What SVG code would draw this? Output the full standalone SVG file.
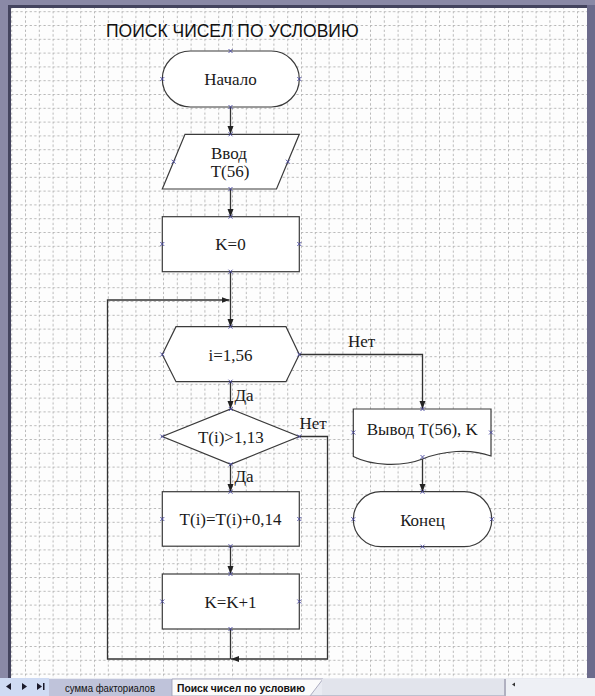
<svg xmlns="http://www.w3.org/2000/svg" xmlns:xlink="http://www.w3.org/1999/xlink" width="595" height="696" viewBox="0 0 595 696">
<style>
.shape{fill:#ffffff;stroke:#3a3a3a;stroke-width:1.2}
.lbl{font-family:"Liberation Serif","Times New Roman",serif;font-size:17px;fill:#1a1a1a;text-anchor:middle}
.lbl2{font-family:"Liberation Serif","Times New Roman",serif;font-size:17px;fill:#1a1a1a}
.conn{fill:none;stroke:#333333;stroke-width:1.3}
.arr{marker-end:url(#ah)}
.tab{font-family:"Liberation Sans",Arial,sans-serif;font-size:10.5px;fill:#111}
</style>
<defs>
<marker id="ah" markerUnits="userSpaceOnUse" markerWidth="9" markerHeight="7" refX="8" refY="3.5" orient="auto">
<path d="M0,0.5 L8,3.5 L0,6.5 z" fill="#222"/>
</marker>
<path id="cp" d="M-2,-2L2,2M-2,2L2,-2" stroke="#4848a0" stroke-width="0.9" fill="none"/>
<pattern id="grid" patternUnits="userSpaceOnUse" x="11.2" y="11.2" width="13.8" height="13.8">
<path d="M0.5,0V13.8M0,0.5H13.8" stroke="#b8b8b8" stroke-width="1" stroke-dasharray="2.3 2.3" fill="none"/>
</pattern>
</defs>

<!-- window frame -->
<rect x="0" y="0" width="595" height="696" fill="#8a89a6"/>
<rect x="8" y="5" width="581" height="675" fill="#44445e"/>
<rect x="11" y="8" width="576" height="670" fill="#fdfdfd"/>
<rect x="11" y="8" width="576" height="670" fill="url(#grid)"/>
<rect x="587" y="5" width="8" height="675" fill="#6c6b8c"/>

<!-- title -->
<text x="106" y="36.7" font-family="'Liberation Sans',Arial,sans-serif" font-size="17.5" fill="#111">ПОИСК ЧИСЕЛ ПО УСЛОВИЮ</text>

<!-- connectors -->
<g id="connectors">
<path class="conn arr" d="M230.5,107 V134"/>
<path class="conn arr" d="M230.5,189 V217"/>
<path class="conn arr" d="M230.5,272 V327"/>
<path class="conn arr" d="M230.5,382 V409"/>
<path class="conn arr" d="M230.5,464 V492"/>
<path class="conn arr" d="M230.5,546 V574"/>
<path class="conn" d="M230.5,629 V659"/>
<path class="conn arr" d="M299,354.5 H422.5 V409"/>
<path class="conn arr" d="M422.5,456.5 V492"/>
<path class="conn arr" d="M299,436.5 H327.5 V659 H231"/>
<path class="conn arr" d="M230.5,659 H107.5 V300 H229.5"/>
<text class="lbl2" x="348" y="347">Нет</text>
<text class="lbl2" x="299.5" y="429">Нет</text>
<text class="lbl2" x="234.5" y="400.5">Да</text>
<text class="lbl2" x="234.5" y="482">Да</text>
</g>

<g id="start">
<rect class="shape" x="162.3" y="51" width="137" height="56" rx="28" ry="28"/>
<text class="lbl" x="230.5" y="85">Начало</text>
<use xlink:href="#cp" x="230.5" y="51"/><use xlink:href="#cp" x="230.5" y="107"/><use xlink:href="#cp" x="162.3" y="79"/><use xlink:href="#cp" x="299.3" y="79"/>
</g>

<g id="input">
<polygon class="shape" points="185,134.3 299.3,134.3 276.5,189 162.3,189"/>
<text class="lbl" x="229" y="158.5">Ввод</text>
<text class="lbl" x="230" y="177">T(56)</text>
<use xlink:href="#cp" x="230.5" y="134.3"/><use xlink:href="#cp" x="230.5" y="189"/><use xlink:href="#cp" x="173.6" y="161.7"/><use xlink:href="#cp" x="287.9" y="161.7"/>
</g>

<g id="k0">
<rect class="shape" x="162.3" y="216.7" width="137" height="55"/>
<text class="lbl" x="230.5" y="249.5">K=0</text>
<use xlink:href="#cp" x="230.5" y="216.7"/><use xlink:href="#cp" x="230.5" y="271.7"/><use xlink:href="#cp" x="162.3" y="244"/><use xlink:href="#cp" x="299.3" y="244"/>
</g>

<g id="loop">
<polygon class="shape" points="176,326.7 286,326.7 299.3,354.5 286,381.7 176,381.7 162.3,354.5"/>
<text class="lbl" x="230.5" y="360.5">i=1,56</text>
<use xlink:href="#cp" x="230.5" y="326.7"/><use xlink:href="#cp" x="230.5" y="381.7"/><use xlink:href="#cp" x="162.3" y="354.5"/><use xlink:href="#cp" x="299.3" y="354.5"/>
</g>

<g id="cond">
<polygon class="shape" points="230.8,409 299.3,436.5 230.8,464.3 162.3,436.5"/>
<text class="lbl" x="230.8" y="442.5">T(i)&gt;1,13</text>
<use xlink:href="#cp" x="230.8" y="409"/><use xlink:href="#cp" x="230.8" y="464.3"/><use xlink:href="#cp" x="162.3" y="436.5"/><use xlink:href="#cp" x="299.3" y="436.5"/>
</g>

<g id="update">
<rect class="shape" x="162.3" y="491.7" width="137" height="54.5"/>
<text class="lbl" x="230.5" y="525">T(i)=T(i)+0,14</text>
<use xlink:href="#cp" x="230.5" y="491.7"/><use xlink:href="#cp" x="230.5" y="546.2"/><use xlink:href="#cp" x="162.3" y="519"/><use xlink:href="#cp" x="299.3" y="519"/>
</g>

<g id="inc">
<rect class="shape" x="162.3" y="574" width="137" height="55"/>
<text class="lbl" x="230.5" y="608">K=K+1</text>
<use xlink:href="#cp" x="230.5" y="574"/><use xlink:href="#cp" x="230.5" y="629"/><use xlink:href="#cp" x="162.3" y="601.5"/><use xlink:href="#cp" x="299.3" y="601.5"/>
</g>

<g id="output">
<path class="shape" d="M353.3,409 H491 V456 C470,448 442,451 422.5,459 C402,467 372,466 353.3,456.5 Z"/>
<text class="lbl" x="422.3" y="434.5">Вывод T(56), K</text>
<use xlink:href="#cp" x="422.5" y="409"/><use xlink:href="#cp" x="422.5" y="457"/><use xlink:href="#cp" x="353.3" y="432.5"/><use xlink:href="#cp" x="491" y="432.5"/>
</g>

<g id="end">
<rect class="shape" x="353.3" y="491.7" width="138.5" height="55" rx="27.5" ry="27.5"/>
<text class="lbl" x="422.5" y="525.5">Конец</text>
<use xlink:href="#cp" x="422.5" y="491.7"/><use xlink:href="#cp" x="422.5" y="546.7"/><use xlink:href="#cp" x="353.3" y="519.2"/><use xlink:href="#cp" x="491.8" y="519.2"/>
</g>

<!-- tab bar -->
<rect x="0" y="678" width="595" height="18" fill="#e9ebf2"/>
<rect x="0" y="678" width="49" height="18" fill="#cfdbf3"/>
<polygon points="6,686.5 11,683 11,690" fill="#1a1a2a"/>
<polygon points="27,686.5 22,683 22,690" fill="#1a1a2a"/>
<polygon points="42,686.5 37,683 37,690" fill="#1a1a2a"/>
<rect x="43" y="683" width="1.5" height="7" fill="#1a1a2a"/>
<rect x="49" y="679" width="123" height="17" fill="#bfc3da"/>
<text class="tab" x="65" y="691.5" textLength="90" lengthAdjust="spacingAndGlyphs">сумма факториалов</text>
<path d="M172,696 V679 H323 L310,696 Z" fill="#fbfbfb" stroke="#9a9ab2" stroke-width="0.8"/>
<text class="tab" x="177" y="691.5" font-weight="bold" textLength="128" lengthAdjust="spacingAndGlyphs">Поиск чисел по условию</text>
<rect x="322" y="679" width="183" height="17" fill="#e2e4ec"/>
<path d="M311,695.5 H505" stroke="#b4b6c8" stroke-width="0.8"/>
<rect x="504" y="679" width="2" height="17" fill="#b0b0c0"/>
<rect x="506" y="679" width="89" height="17" fill="#eef0f5"/>
<polygon points="512,684.5 515,682.5 515,686.5" fill="#333"/>
</svg>
